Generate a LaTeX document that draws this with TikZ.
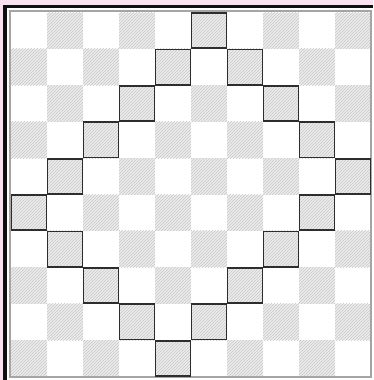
\documentclass[tikz,border=0pt]{standalone}
\usetikzlibrary{patterns}
\definecolor{bgpink}{RGB}{250,226,240}
\definecolor{hatchbg}{RGB}{236,236,236}
\definecolor{hatchln}{RGB}{200,200,200}
\definecolor{frameblk}{RGB}{15,15,15}
\definecolor{edgegray}{RGB}{165,165,165}
\definecolor{boxline}{RGB}{45,45,45}
\tikzset{
  hatchcell/.style={fill=hatchbg},
  hatchlines/.style={pattern=north east lines, pattern color=hatchln},
  markcell/.style={draw=boxline, line width=1.7pt},
}
\begin{document}
\begin{tikzpicture}[x=1pt,y=-1pt]
\useasboundingbox (0,0) rectangle (373,380);
\fill[white] (0,0) rectangle (373,380);
% pink margin
\fill[bgpink] (0,0) rectangle (373,4.5);
\fill[bgpink] (0,0) rectangle (2.5,380);
% black frame edges
\fill[frameblk] (2.5,4.5) rectangle (373,7.8);
\fill[frameblk] (2.5,4.5) rectangle (6.8,380);
% checkerboard
\def\xo{11}\def\yo{12.5}\def\cw{36}\def\ch{36.4}
\foreach \r in {0,...,9}{
  \foreach \c in {0,...,9}{
    \pgfmathtruncatemacro{\myparity}{mod(\r+\c,2)}
    \ifnum\myparity=1
      \fill[hatchcell] ({\xo+\c*\cw},{\yo+\r*\ch}) rectangle ++(\cw,\ch);
      \fill[hatchlines] ({\xo+\c*\cw},{\yo+\r*\ch}) rectangle ++(\cw,\ch);
    \fi
  }
}
% inner gray frame
\draw[edgegray, line width=1.6pt] (10,11.2) rectangle (371.2,376.8);
% diamond of marked cells (row/col)
\foreach \r/\c in {0/5,1/4,1/6,2/3,2/7,3/2,3/8,4/1,4/9,5/0,5/8,6/1,6/7,7/2,7/6,8/3,8/5,9/4}{
  \draw[markcell] ({\xo+\c*\cw+0.6},{\yo+\r*\ch+0.6}) rectangle ++(\cw-1.2,\ch-1.2);
}
\end{tikzpicture}
\end{document}
